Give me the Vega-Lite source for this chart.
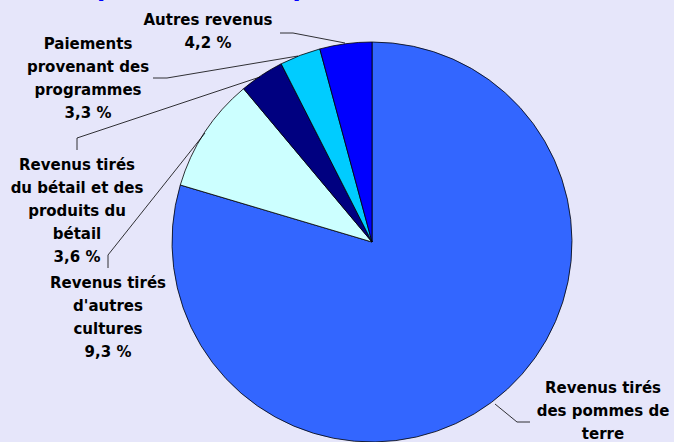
{
  "$schema": "https://vega.github.io/schema/vega-lite/v6.json",
  "width": 604,
  "height": 400,
  "autosize": {"type": "none"},
  "padding": {"left": 70, "top": 42, "right": 0, "bottom": 0},
  "background": "#E6E6FA",
  "config": {"view": {"stroke": null}},
  "datasets": {
    "parts": [
      {"categorie": "Revenus tirés des pommes de terre", "part": 79.6, "ordre": 1},
      {"categorie": "Revenus tirés d'autres cultures", "part": 9.3, "ordre": 2},
      {"categorie": "Revenus tirés du bétail et des produits du bétail", "part": 3.6, "ordre": 3},
      {"categorie": "Paiements provenant des programmes", "part": 3.3, "ordre": 4},
      {"categorie": "Autres revenus", "part": 4.2, "ordre": 5}
    ],
    "traits": [
      {"trait": "a", "seq": 1, "u": -0.46, "v": 1.045},
      {"trait": "a", "seq": 2, "u": -0.395, "v": 1.045},
      {"trait": "a", "seq": 3, "u": -0.135, "v": 0.995},
      {"trait": "b", "seq": 1, "u": -1.095, "v": 0.82},
      {"trait": "b", "seq": 2, "u": -1.025, "v": 0.82},
      {"trait": "b", "seq": 3, "u": -0.37, "v": 0.93},
      {"trait": "c", "seq": 1, "u": -1.475, "v": 0.46},
      {"trait": "c", "seq": 2, "u": -1.475, "v": 0.52},
      {"trait": "c", "seq": 3, "u": -0.56, "v": 0.825},
      {"trait": "d", "seq": 1, "u": -1.32, "v": -0.13},
      {"trait": "d", "seq": 2, "u": -1.32, "v": -0.065},
      {"trait": "d", "seq": 3, "u": -0.835, "v": 0.545},
      {"trait": "e", "seq": 1, "u": 0.615, "v": -0.81},
      {"trait": "e", "seq": 2, "u": 0.725, "v": -0.9},
      {"trait": "e", "seq": 3, "u": 0.79, "v": -0.9}
    ],
    "etiquettes": [
      {"texte": "Autres revenus\n4,2 %", "u": -0.82, "v": 1.11},
      {"texte": "Paiements\nprovenant des\nprogrammes\n3,3 %", "u": -1.42, "v": 0.99},
      {"texte": "Revenus tirés\ndu bétail et des\nproduits du\nbétail\n3,6 %", "u": -1.475, "v": 0.385},
      {"texte": "Revenus tirés\nd'autres\ncultures\n9,3 %", "u": -1.32, "v": -0.205},
      {"texte": "Revenus tirés\ndes pommes de\nterre", "u": 1.155, "v": -0.73}
    ],
    "titre": [
      {"texte": "exploitations de pommes de terre, 2001", "u": -0.175, "v": 1.23}
    ]
  },
  "layer": [
    {
      "data": {"name": "parts"},
      "mark": {"type": "arc", "outerRadius": 200, "stroke": "#000000", "strokeWidth": 0.8},
      "encoding": {
        "theta": {"field": "part", "type": "quantitative", "stack": true},
        "order": {"field": "ordre", "type": "quantitative"},
        "color": {
          "field": "categorie",
          "type": "nominal",
          "scale": {
            "domain": ["Revenus tirés des pommes de terre", "Revenus tirés d'autres cultures", "Revenus tirés du bétail et des produits du bétail", "Paiements provenant des programmes", "Autres revenus"],
            "range": ["#3366FF", "#CCFFFF", "#000080", "#00CCFF", "#0000FF"]
          },
          "legend": null
        }
      }
    },
    {
      "data": {"name": "traits"},
      "mark": {"type": "line", "color": "#000000", "strokeWidth": 0.8},
      "encoding": {
        "x": {"field": "u", "type": "quantitative", "scale": {"domain": [-1.51, 1.51], "nice": false, "zero": false}, "axis": null},
        "y": {"field": "v", "type": "quantitative", "scale": {"domain": [-1, 1], "nice": false, "zero": false}, "axis": null},
        "detail": {"field": "trait"},
        "order": {"field": "seq", "type": "quantitative"}
      }
    },
    {
      "data": {"name": "etiquettes"},
      "mark": {"type": "text", "font": "DejaVu Sans", "fontWeight": "bold", "fontSize": 15, "lineBreak": "\n", "lineHeight": 23, "align": "center", "baseline": "middle", "color": "#000000"},
      "encoding": {
        "x": {"field": "u", "type": "quantitative", "scale": {"domain": [-1.51, 1.51], "nice": false, "zero": false}, "axis": null},
        "y": {"field": "v", "type": "quantitative", "scale": {"domain": [-1, 1], "nice": false, "zero": false}, "axis": null},
        "text": {"field": "texte"}
      }
    },
    {
      "data": {"name": "titre"},
      "mark": {"type": "text", "font": "DejaVu Sans", "fontWeight": "bold", "fontSize": 24, "align": "center", "baseline": "alphabetic", "color": "#0000FF"},
      "encoding": {
        "x": {"field": "u", "type": "quantitative", "scale": {"domain": [-1.51, 1.51], "nice": false, "zero": false}, "axis": null},
        "y": {"field": "v", "type": "quantitative", "scale": {"domain": [-1, 1], "nice": false, "zero": false}, "axis": null},
        "text": {"field": "texte"}
      }
    }
  ]
}
